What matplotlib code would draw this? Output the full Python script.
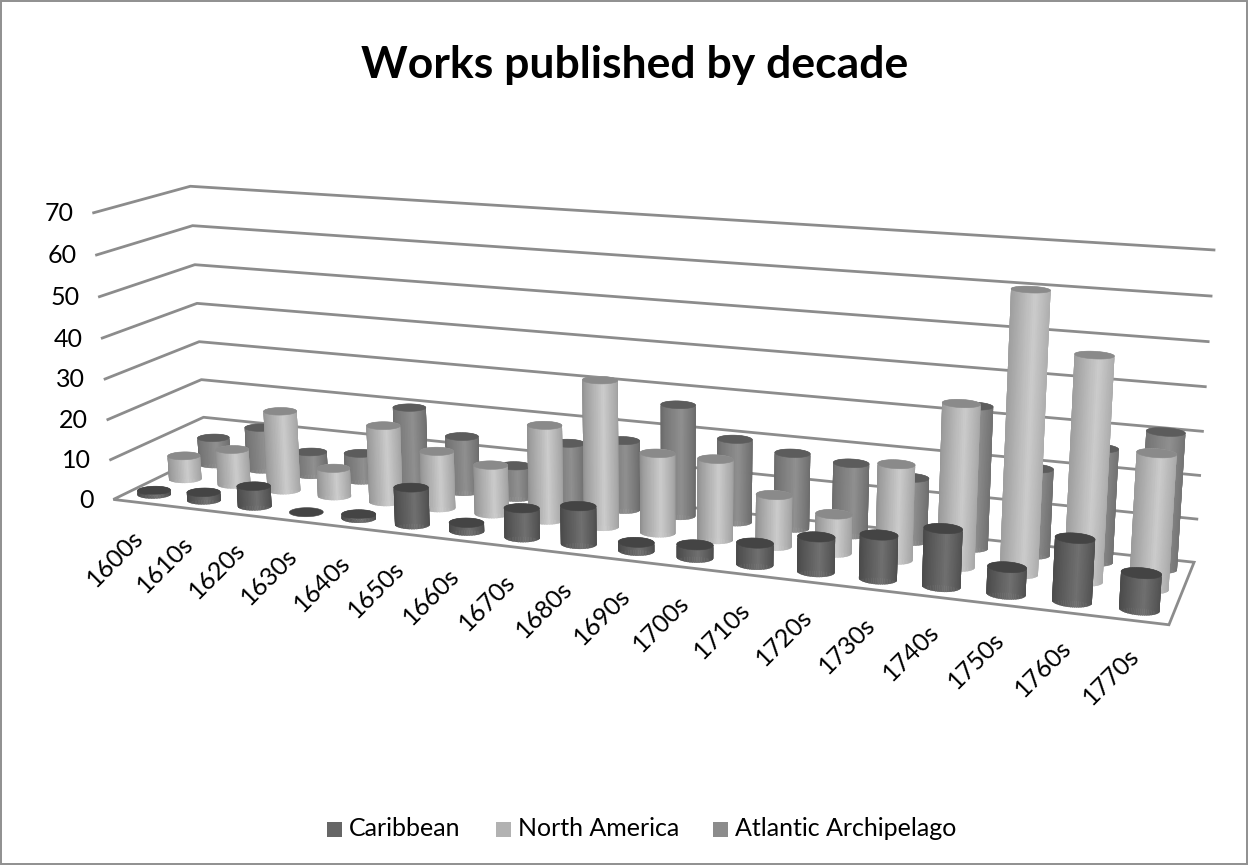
import numpy as np
import matplotlib
matplotlib.use('Agg')
import matplotlib.pyplot as plt
from matplotlib.collections import PolyCollection
from matplotlib.patches import Polygon, Rectangle

decades = ['1600s', '1610s', '1620s', '1630s', '1640s', '1650s', '1660s', '1670s', '1680s',
           '1690s', '1700s', '1710s', '1720s', '1730s', '1740s', '1750s', '1760s', '1770s']
caribbean = [1, 2, 5, 0, 1, 9, 2, 7, 9, 2, 3, 5, 8, 10, 13, 6, 14, 8]
north_america = [6, 9, 20, 7, 19, 14, 12, 23, 35, 19, 19, 12, 9, 22, 37, 63, 50, 30]
atlantic = [7, 11, 6, 7, 20, 14, 8, 15, 17, 27, 20, 18, 17, 15, 33, 20, 26, 31]
y_ticks = [0, 10, 20, 30, 40, 50, 60, 70]

plt.rcParams['font.family'] = ['Lato', 'DejaVu Sans']

GRID = '#8c8c8c'
Z_MAX = 70
N_CAT = len(decades)
N_SER = 3

# box corners in (category, series, value) and where they land on the canvas
box_world = np.array([[0, 0, 0], [0, 0, Z_MAX], [0, N_SER, 0], [0, N_SER, Z_MAX],
                      [N_CAT, N_SER, 0], [N_CAT, N_SER, Z_MAX], [N_CAT, 0, 0]], float)
box_px = np.array([[113, 499], [94, 213], [206, 455], [190, 186],
                   [1194, 562], [1214, 250], [1169, 625]], float)


def fit_camera(world, px):
    rows, rhs = [], []
    for (x, y, z), (u, v) in zip(world, px):
        rows.append([x, y, z, 1, 0, 0, 0, 0, -u * x, -u * y, -u * z])
        rhs.append(u)
        rows.append([0, 0, 0, 0, x, y, z, 1, -v * x, -v * y, -v * z])
        rhs.append(v)
    p = np.linalg.lstsq(np.array(rows), np.array(rhs), rcond=None)[0]
    return np.append(p, 1.0).reshape(3, 4)


cam = fit_camera(box_world, box_px)


def proj(x, y, z):
    x, y, z = np.broadcast_arrays(x, y, z)
    h = cam @ np.vstack([x.ravel(), y.ravel(), z.ravel(), np.ones(x.size)])
    return np.column_stack([h[0] / h[2], h[1] / h[2]])


def convex_hull(points):
    pts = sorted(map(tuple, points))
    def half(seq):
        out = []
        for p in seq:
            while len(out) > 1 and ((out[-1][0] - out[-2][0]) * (p[1] - out[-2][1])
                                    - (out[-1][1] - out[-2][1]) * (p[0] - out[-2][0])) <= 0:
                out.pop()
            out.append(p)
        return out[:-1]
    return np.array(half(pts) + half(pts[::-1]))


fig = plt.figure(figsize=(12.48, 8.65), dpi=100)
ax = fig.add_axes([0, 0, 1, 1])
ax.set_xlim(0, 1248)
ax.set_ylim(865, 0)
ax.axis('off')

ax.add_patch(Rectangle((1, 1), 1246, 863, fill=False, ec='#8f8f8f', lw=1.4))
ax.text(634.5, 65, 'Works published by decade', fontsize=32, fontweight='bold',
        ha='center', va='center', color='black')

# floor
ax.add_patch(Polygon(proj([0, N_CAT, N_CAT, 0], [0, 0, N_SER, N_SER], 0), closed=True,
                     fc='white', ec=GRID, lw=2, zorder=1))

# walls and value labels
for t in y_ticks:
    line = proj([0, 0, N_CAT], [0, N_SER, N_SER], t)
    if t > 0:
        ax.plot(line[:, 0], line[:, 1], color=GRID, lw=2, zorder=1)
    ax.text(line[0, 0] - 20, line[0, 1] + 1, str(t), fontsize=18, ha='right', va='center')

for i, name in enumerate(decades):
    u, v = proj(i + 0.5, 0, 0)[0]
    ax.text(u - 23, v + 56, name, fontsize=18, rotation=45, ha='center', va='center')

RX, RY = 0.295, 0.25
theta = np.linspace(0, 2 * np.pi, 73)
shade_t = [0, 0.12, 0.55, 0.88, 1]
zorder = 2


def cylinder(cx, cy, value, shades, cap):
    global zorder
    xs = cx + RX * np.cos(theta)
    ys = cy + RY * np.sin(theta)
    bottom = proj(xs, ys, 0)
    top = proj(xs, ys, value)
    if value > 0:
        outline = convex_hull(np.vstack([bottom, top]))
        left, right = outline[:, 0].min(), outline[:, 0].max()
        # strips run past the outline and get clipped, which keeps the edge smooth
        low = proj(cx + 1.1 * RX * np.cos(theta), cy + 1.1 * RY * np.sin(theta), -1)
        high = proj(cx + 1.1 * RX * np.cos(theta), cy + 1.1 * RY * np.sin(theta), value)
        quads = []
        colors = []
        for k in np.argsort(-np.sin(theta[:-1] + np.pi / 72)):
            quads.append([low[k], low[k + 1], high[k + 1], high[k]])
            mid = (bottom[k, 0] + top[k, 0] - 2 * left) / (2 * (right - left))
            g = np.interp(mid, shade_t, shades)
            colors.append((g, g, g))
        body = PolyCollection(quads, facecolors=colors, edgecolors=colors,
                              linewidths=0.4, zorder=zorder)
        ax.add_collection(body)
        body.set_clip_path(Polygon(outline, closed=True, transform=ax.transData))
    ax.add_patch(Polygon(top, closed=True, fc=cap, ec=cap, lw=0.4, zorder=zorder + 0.5))
    zorder += 1


series = [
    (atlantic, 2, np.array([0x64, 0x74, 0x90, 0x72, 0x60]) / 255, '#5c5c5c'),
    (north_america, 1, np.array([0x84, 0x9c, 0xcc, 0xa8, 0x90]) / 255, '#8a8a8a'),
    (caribbean, 0, np.array([0x44, 0x50, 0x70, 0x54, 0x46]) / 255, '#444444'),
]
for values, s, shades, cap in series:
    for i, val in enumerate(values):
        cylinder(i + 0.5, s + 0.5, val, shades, cap)

# legend
legend_items = [('Caribbean', '#666666', 327), ('North America', '#b2b2b2', 496),
                ('Atlantic Archipelago', '#8c8c8c', 713)]
for label, color, x in legend_items:
    ax.add_patch(Rectangle((x, 822), 15, 15, fc=color, ec='none', zorder=100))
    ax.text(x + 22, 829, label, fontsize=18, ha='left', va='center')

fig.savefig('out.png', dpi=100)
